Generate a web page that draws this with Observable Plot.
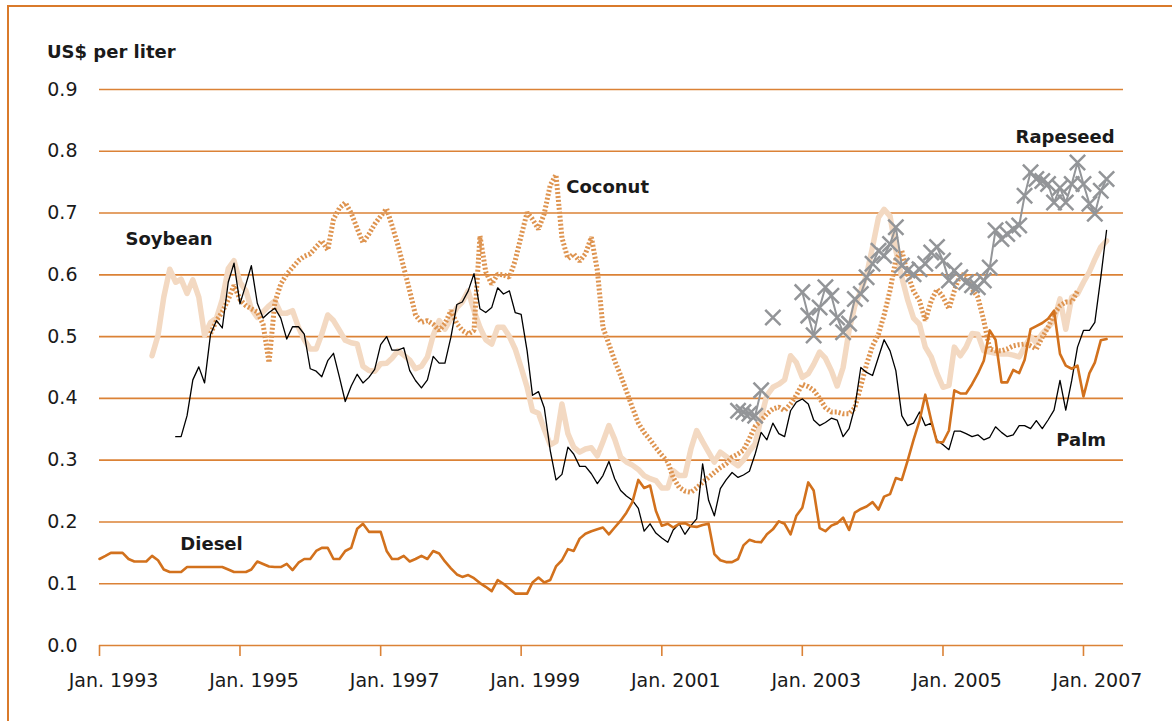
<!DOCTYPE html>
<html>
<head>
<meta charset="utf-8">
<script src="https://cdn.jsdelivr.net/npm/d3@7"></script>
<script src="https://cdn.jsdelivr.net/npm/@observablehq/plot@0.6"></script>
<style>
  html, body { margin: 0; padding: 0; background: #fff; overflow: hidden; }
  #frame { position: absolute; left: 7px; top: 5px; width: 1300px; height: 900px; border: 2px solid #D97A2B; box-sizing: border-box; }
  #title { position: absolute; left: 47px; top: 43px; font: bold 18px/18px "DejaVu Sans", sans-serif; color: #1a1a1a; white-space: nowrap; }
  #chart { position: absolute; left: 0; top: 0; }
</style>
</head>
<body>
<div id="chart"></div>
<div id="frame"></div>
<div id="title">US$ per liter</div>
<script>
// ---- Data (monthly, US$ per liter) ----
const dieselStart = "1993-01";
const diesel = [
  0.140,0.145,0.150,0.150,0.150,0.140,0.136,0.136,0.136,0.145,
  0.138,0.123,0.119,0.119,0.119,0.127,0.127,0.127,0.127,0.127,
  0.127,0.127,0.123,0.119,0.119,0.119,0.123,0.136,0.132,0.128,
  0.127,0.127,0.132,0.122,0.134,0.140,0.140,0.153,0.158,0.158,
  0.140,0.140,0.153,0.158,0.189,0.197,0.184,0.184,0.184,0.153,
  0.140,0.140,0.145,0.136,0.140,0.145,0.140,0.153,0.149,0.136,
  0.125,0.115,0.111,0.114,0.109,0.101,0.095,0.088,0.106,0.100,
  0.092,0.084,0.084,0.084,0.102,0.110,0.102,0.106,0.128,0.138,
  0.156,0.153,0.173,0.181,0.185,0.188,0.191,0.180,0.191,0.202,
  0.215,0.232,0.268,0.255,0.259,0.218,0.194,0.197,0.191,0.197,
  0.198,0.193,0.192,0.195,0.197,0.148,0.138,0.135,0.135,0.140,
  0.162,0.171,0.168,0.167,0.180,0.188,0.201,0.197,0.180,0.210,
  0.223,0.264,0.251,0.190,0.185,0.194,0.198,0.207,0.187,0.215,
  0.221,0.225,0.232,0.220,0.241,0.245,0.271,0.268,0.299,0.333,
  0.364,0.406,0.364,0.329,0.329,0.348,0.413,0.408,0.408,0.423,
  0.440,0.461,0.510,0.495,0.426,0.426,0.446,0.441,0.462,0.512,
  0.517,0.522,0.529,0.542,0.472,0.453,0.448,0.453,0.403,0.441,
  0.458,0.494,0.496
];

const palmStart = "1994-02";
const palm = [
  0.338,0.338,0.372,0.430,0.451,0.425,0.504,
  0.526,0.514,0.588,0.619,0.553,0.585,0.615,0.554,0.530,0.539,
  0.546,0.530,0.496,0.516,0.516,0.504,0.448,0.444,0.435,0.461,
  0.473,0.434,0.395,0.420,0.439,0.425,0.434,0.447,0.487,0.500,
  0.478,0.478,0.482,0.445,0.429,0.417,0.430,0.468,0.457,0.457,
  0.499,0.552,0.556,0.574,0.602,0.545,0.539,0.547,0.579,0.569,
  0.574,0.539,0.536,0.477,0.405,0.411,0.385,0.316,0.268,0.277,
  0.321,0.310,0.290,0.290,0.278,0.262,0.275,0.298,0.270,0.251,
  0.242,0.235,0.222,0.185,0.197,0.182,0.174,0.167,0.187,0.197,
  0.180,0.194,0.205,0.294,0.235,0.210,0.254,0.268,0.280,0.272,
  0.276,0.282,0.310,0.345,0.333,0.360,0.343,0.338,0.380,0.394,
  0.399,0.391,0.365,0.356,0.361,0.368,0.365,0.338,0.351,0.386,
  0.450,0.442,0.437,0.467,0.495,0.477,0.445,0.372,0.356,0.360,
  0.378,0.356,0.360,0.332,0.325,0.317,0.347,0.347,0.343,0.338,
  0.341,0.333,0.337,0.354,0.345,0.338,0.341,0.356,0.356,0.351,
  0.364,0.351,0.365,0.381,0.429,0.381,0.429,0.483,0.510,0.510,
  0.523,0.596,0.672
];

const soybeanStart = "1993-10";
const soybean = [
  0.469,
  0.502,0.564,0.609,0.588,0.593,0.570,0.592,0.564,0.502,0.523,
  0.530,0.560,0.610,0.623,0.588,0.574,0.545,0.531,0.540,0.550,
  0.558,0.538,0.538,0.542,0.515,0.495,0.480,0.480,0.504,0.535,
  0.526,0.510,0.494,0.490,0.488,0.452,0.445,0.444,0.456,0.457,
  0.465,0.477,0.470,0.462,0.448,0.452,0.467,0.502,0.526,0.512,
  0.529,0.547,0.556,0.574,0.542,0.515,0.495,0.488,0.515,0.515,
  0.500,0.480,0.450,0.418,0.380,0.376,0.350,0.325,0.330,0.391,
  0.343,0.321,0.313,0.318,0.320,0.307,0.330,0.356,0.334,0.305,
  0.297,0.292,0.285,0.275,0.270,0.267,0.255,0.255,0.283,0.275,
  0.275,0.318,0.348,0.330,0.313,0.297,0.313,0.306,0.298,0.291,
  0.300,0.315,0.326,0.369,0.405,0.418,0.423,0.430,0.469,0.458,
  0.434,0.440,0.455,0.475,0.465,0.445,0.420,0.450,0.510,0.550,
  0.574,0.600,0.645,0.693,0.706,0.695,0.640,0.596,0.560,0.530,
  0.520,0.483,0.467,0.440,0.418,0.421,0.483,0.469,0.483,0.505,
  0.504,0.477,0.475,0.473,0.472,0.472,0.470,0.467,0.483,0.500,
  0.490,0.505,0.515,0.526,0.561,0.512,0.564,0.569,0.588,0.605,
  0.625,0.645,0.655
];

const coconutStart = "1994-08";
const coconut = [
  0.505,
  0.526,0.540,0.560,0.583,0.560,0.550,0.545,0.540,0.520,0.458,
  0.555,0.585,0.601,0.612,0.623,0.630,0.634,0.645,0.655,0.640,
  0.690,0.708,0.717,0.700,0.675,0.652,0.666,0.682,0.695,0.707,
  0.680,0.648,0.612,0.574,0.535,0.523,0.526,0.520,0.510,0.521,
  0.542,0.521,0.510,0.504,0.510,0.663,0.605,0.585,0.601,0.600,
  0.596,0.623,0.663,0.701,0.690,0.674,0.699,0.745,0.762,0.660,
  0.626,0.634,0.622,0.634,0.661,0.607,0.515,0.488,0.461,0.437,
  0.412,0.385,0.360,0.345,0.333,0.320,0.308,0.297,0.272,0.256,
  0.250,0.248,0.255,0.264,0.272,0.280,0.288,0.294,0.305,0.310,
  0.316,0.335,0.355,0.364,0.375,0.383,0.386,0.380,0.391,0.405,
  0.423,0.419,0.413,0.400,0.385,0.378,0.378,0.375,0.375,0.385,
  0.420,0.455,0.485,0.504,0.535,0.575,0.625,0.639,0.601,0.574,
  0.558,0.526,0.558,0.577,0.564,0.545,0.574,0.601,0.598,0.577,
  0.564,0.526,0.480,0.477,0.477,0.480,0.485,0.487,0.488,0.485,
  0.480,0.499,0.515,0.537,0.550,0.556,0.556,0.574
];

const rapeseedStart = "2002-02";
const rapeseed = [
  0.380,0.378,0.375,0.372,0.413,null,0.531,null,null,null,null,
  0.572,0.534,0.502,0.547,0.580,0.566,0.531,0.507,0.521,0.561,
  0.569,0.596,0.618,0.639,0.631,0.650,0.677,0.615,0.607,0.601,
  0.609,0.618,0.636,0.645,0.623,0.591,0.607,0.596,0.588,0.583,
  0.580,0.591,0.612,0.672,0.658,0.666,0.674,0.680,0.728,0.766,
  0.755,0.752,0.747,0.717,0.741,0.717,0.747,0.782,0.747,0.715,
  0.699,0.736,0.755
];

// axis ticks
const xTickYears = [1993, 1995, 1997, 1999, 2001, 2003, 2005, 2007];
const yTicks = [0, 0.1, 0.2, 0.3, 0.4, 0.5, 0.6, 0.7, 0.8, 0.9];

// series labels (annotation anchors)
const labelNames = ["Soybean", "Coconut", "Rapeseed", "Diesel", "Palm"];
const labelDates = ["1993-05-16", "1999-08-23", "2006-01-13", "1994-02-25", "2006-08-13"];
const labelValues = [0.657, 0.742, 0.823, 0.164, 0.333];

// ---- Build tables ----
function toRows(name, start, values) {
  const [y, m] = start.split("-").map(Number);
  return values.map((v, i) => ({
    series: name,
    date: new Date(Date.UTC(y, m - 1 + i, 1)),
    value: v == null ? NaN : v
  }));
}
const dieselRows = toRows("Diesel", dieselStart, diesel);
const palmRows = toRows("Palm", palmStart, palm);
const soyRows = toRows("Soybean", soybeanStart, soybean);
const cocoRows = toRows("Coconut", coconutStart, coconut);
const rapeRows = toRows("Rapeseed", rapeseedStart, rapeseed);
const labels = labelNames.map((n, i) => ({
  name: n,
  date: new Date(labelDates[i] + "T00:00:00Z"),
  value: labelValues[i]
}));
const xTickDates = xTickYears.map(y => new Date(Date.UTC(y, 0, 1)));

const ORANGE = "#DB8236";
const INK = "#1a1a1a";

const chart = Plot.plot({
  width: 1172,
  height: 721,
  marginLeft: 99,
  marginRight: 49,
  marginTop: 89,
  marginBottom: 76,
  x: { type: "utc", domain: [new Date(Date.UTC(1993, 0, 1)), new Date(Date.UTC(2007, 6, 28))] },
  y: { domain: [0, 0.9] },
  style: { fontFamily: "DejaVu Sans, sans-serif", fontSize: "19px", color: INK, background: "transparent" },
  marks: [
    Plot.ruleY(yTicks, { stroke: ORANGE, strokeWidth: 1.6 }),
    Plot.axisY({
      ticks: yTicks, tickFormat: d => d.toFixed(1), tickSize: 0, tickPadding: 22,
      label: null, fill: INK, fontSize: 19
    }),
    Plot.axisX({
      ticks: xTickDates, tickFormat: () => "",
      tickSize: 11, stroke: ORANGE, strokeWidth: 1.6, label: null
    }),
    Plot.axisX({
      ticks: xTickDates, tickFormat: d => "Jan. " + d.getUTCFullYear(),
      tickSize: 0, tickPadding: 28, dx: 14,
      fill: INK, label: null, fontSize: 19
    }),
    Plot.line(soyRows, { x: "date", y: "value", stroke: "#F3D9C2", strokeWidth: 5.5, strokeLinejoin: "round" }),
    Plot.line(cocoRows, { x: "date", y: "value", stroke: "#DE9450", strokeWidth: 5, strokeDasharray: "2,2", strokeLinecap: "butt", strokeLinejoin: "miter" }),
    Plot.line(palmRows, { x: "date", y: "value", stroke: "#000", strokeWidth: 1.3 }),
    Plot.line(dieselRows, { x: "date", y: "value", stroke: "#D2711D", strokeWidth: 2.6 }),
    Plot.line(rapeRows, { x: "date", y: "value", stroke: "#939598", strokeWidth: 2 }),
    Plot.dot(rapeRows.filter(d => !isNaN(d.value)), { x: "date", y: "value", symbol: "times", r: 7, stroke: "#939598", strokeWidth: 2.5 }),
    Plot.text(labels, {
      x: "date", y: "value", text: "name", textAnchor: "start", lineAnchor: "middle",
      fontWeight: "bold", fontSize: 18, fill: INK
    })
  ]
});
document.getElementById("chart").appendChild(chart);
</script>
</body>
</html>
